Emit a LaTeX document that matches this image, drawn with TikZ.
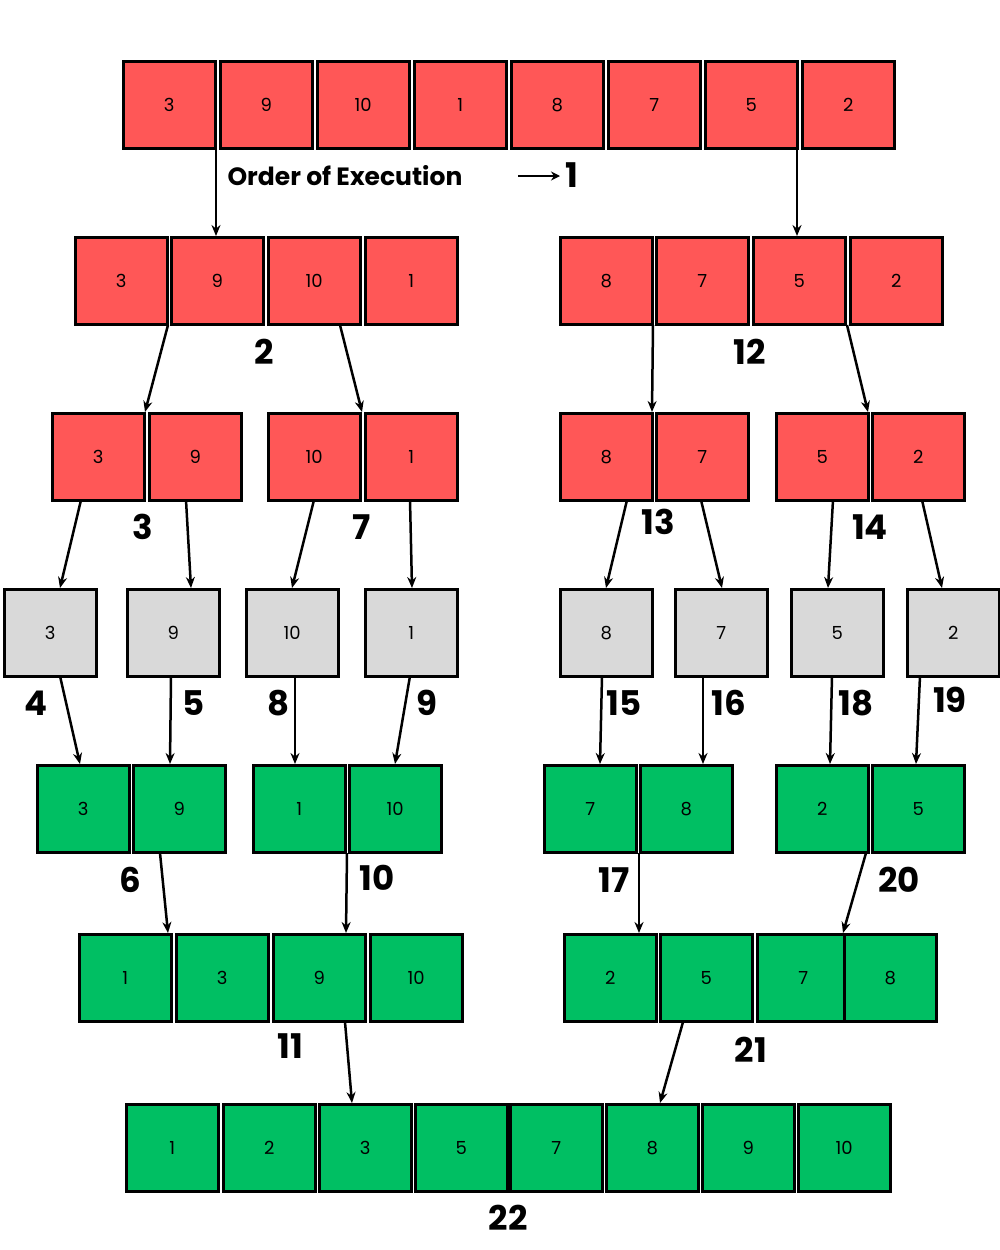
\documentclass[tikz,border=0pt]{standalone}
\usepackage{fontspec}
\setmainfont{Poppins}
\usetikzlibrary{arrows.meta}
\definecolor{rd}{HTML}{FF5757}
\definecolor{gy}{HTML}{D9D9D9}
\definecolor{gn}{HTML}{00BF63}
\tikzset{
 cell/.style={draw=black,line width=2.5pt,minimum width=92pt,minimum height=87pt,inner sep=0pt,anchor=north west,font=\fontsize{18}{20}\selectfont},
 arr/.style={-{Stealth[length=11pt,width=9pt]},line width=2.5pt},
 lab/.style={font=\fontsize{34}{36}\selectfont\bfseries}
}
\newcommand{\cellrow}[4]{\foreach \xx/\tt [count=\i] in {#4}{\node[cell,fill=#2] (#3\i) at (\xx+1,#1) {\tt};}}
\begin{document}
\begin{tikzpicture}[x=1pt,y=-1pt]
\useasboundingbox (0,0) rectangle (1000,1250);
\cellrow{60}{rd}{a}{121/3,218/9,315/10,412/1,509/8,606/7,703/5,800/2}
\cellrow{236}{rd}{b}{73/3,169/9,266/10,363/1,558/8,654/7,751/5,848/2}
\cellrow{412}{rd}{c}{50/3,147/9,266/10,363/1,558/8,654/7,774/5,870/2}
\cellrow{588}{gy}{d}{2/3,125/9,244/10,363/1,558/8,673/7,789/5,905/2}
\cellrow{764}{gn}{e}{35/3,131/9,251/1,347/10,542/7,638/8,774/2,870/5}
\cellrow{933}{gn}{f}{77/1,174/3,271/9,368/10,562/2,658/5,755/7,842/8}
\cellrow{1103}{gn}{g}{124/1,221/2,317/3,413/5,508/7,604/8,700/9,796/10}
\foreach \p/\q in {216/148/216/236,797/148/797/236,
 168/325/145/412,340/325/362/412,653/325/652/412,847/325/868/412,
 81/500/60/588,186/500/191/588,314/500/292/588,410/500/412/588,627/500/606/588,701/500/722/588,833/500/828/588,922/500/942/588,
 60/676/80/764,171/676/170/764,295/676/295/764,410/676/395/764,602/676/600/764,703/676/703/764,832/676/830/764,920/676/916/764,
 160/853/168/933,347/853/346/933,639/853/639/933,866/853/843/933,
 345/1022/352/1103,683/1022/660/1103}{
 \pgfmathsetmacro\dummy{0}
}
\foreach \xa/\ya/\xb/\yb in {216/148/216/236,797/148/797/236,
 168/325/145/412,340/325/362/412,653/325/652/412,847/325/868/412,
 81/500/60/588,186/500/191/588,314/500/292/588,410/500/412/588,627/500/606/588,701/500/722/588,833/500/828/588,922/500/942/588,
 60/676/80/764,171/676/170/764,295/676/295/764,410/676/395/764,602/676/600/764,703/676/703/764,832/676/830/764,920/676/916/764,
 160/853/168/933,347/853/346/933,639/853/639/933,866/853/843/933,
 345/1022/352/1103,683/1022/660/1103}{
 \coordinate (s) at (\xa,\ya); \coordinate (t) at (\xb,\yb);
 \draw[arr] (s) -- (t);
}
\node[font=\fontsize{25}{28}\selectfont\bfseries,anchor=west] (oe) at (224,176) {Order of Execution};
\coordinate (oa) at (518,176); \coordinate (ob) at (560,176);
\draw[-{Stealth[length=9pt,width=9pt]},line width=2.5pt] (oa) -- (ob);
\foreach \x/\y/\t in {572/175/1,264/352/2,750/352/12,143/527/3,362/527/7,658/522/13,870/527/14,
 36/703/4,194/703/5,279/703/8,427/703/9,624/703/15,729/703/16,856/703/18,950/700/19,
 130/880/6,377/878/10,614/880/17,899/880/20,290/1046/11,751/1050/21,508/1218/22}{
 \node[lab] (l\t) at (\x,\y) {\t};
}
\end{tikzpicture}
\end{document}
